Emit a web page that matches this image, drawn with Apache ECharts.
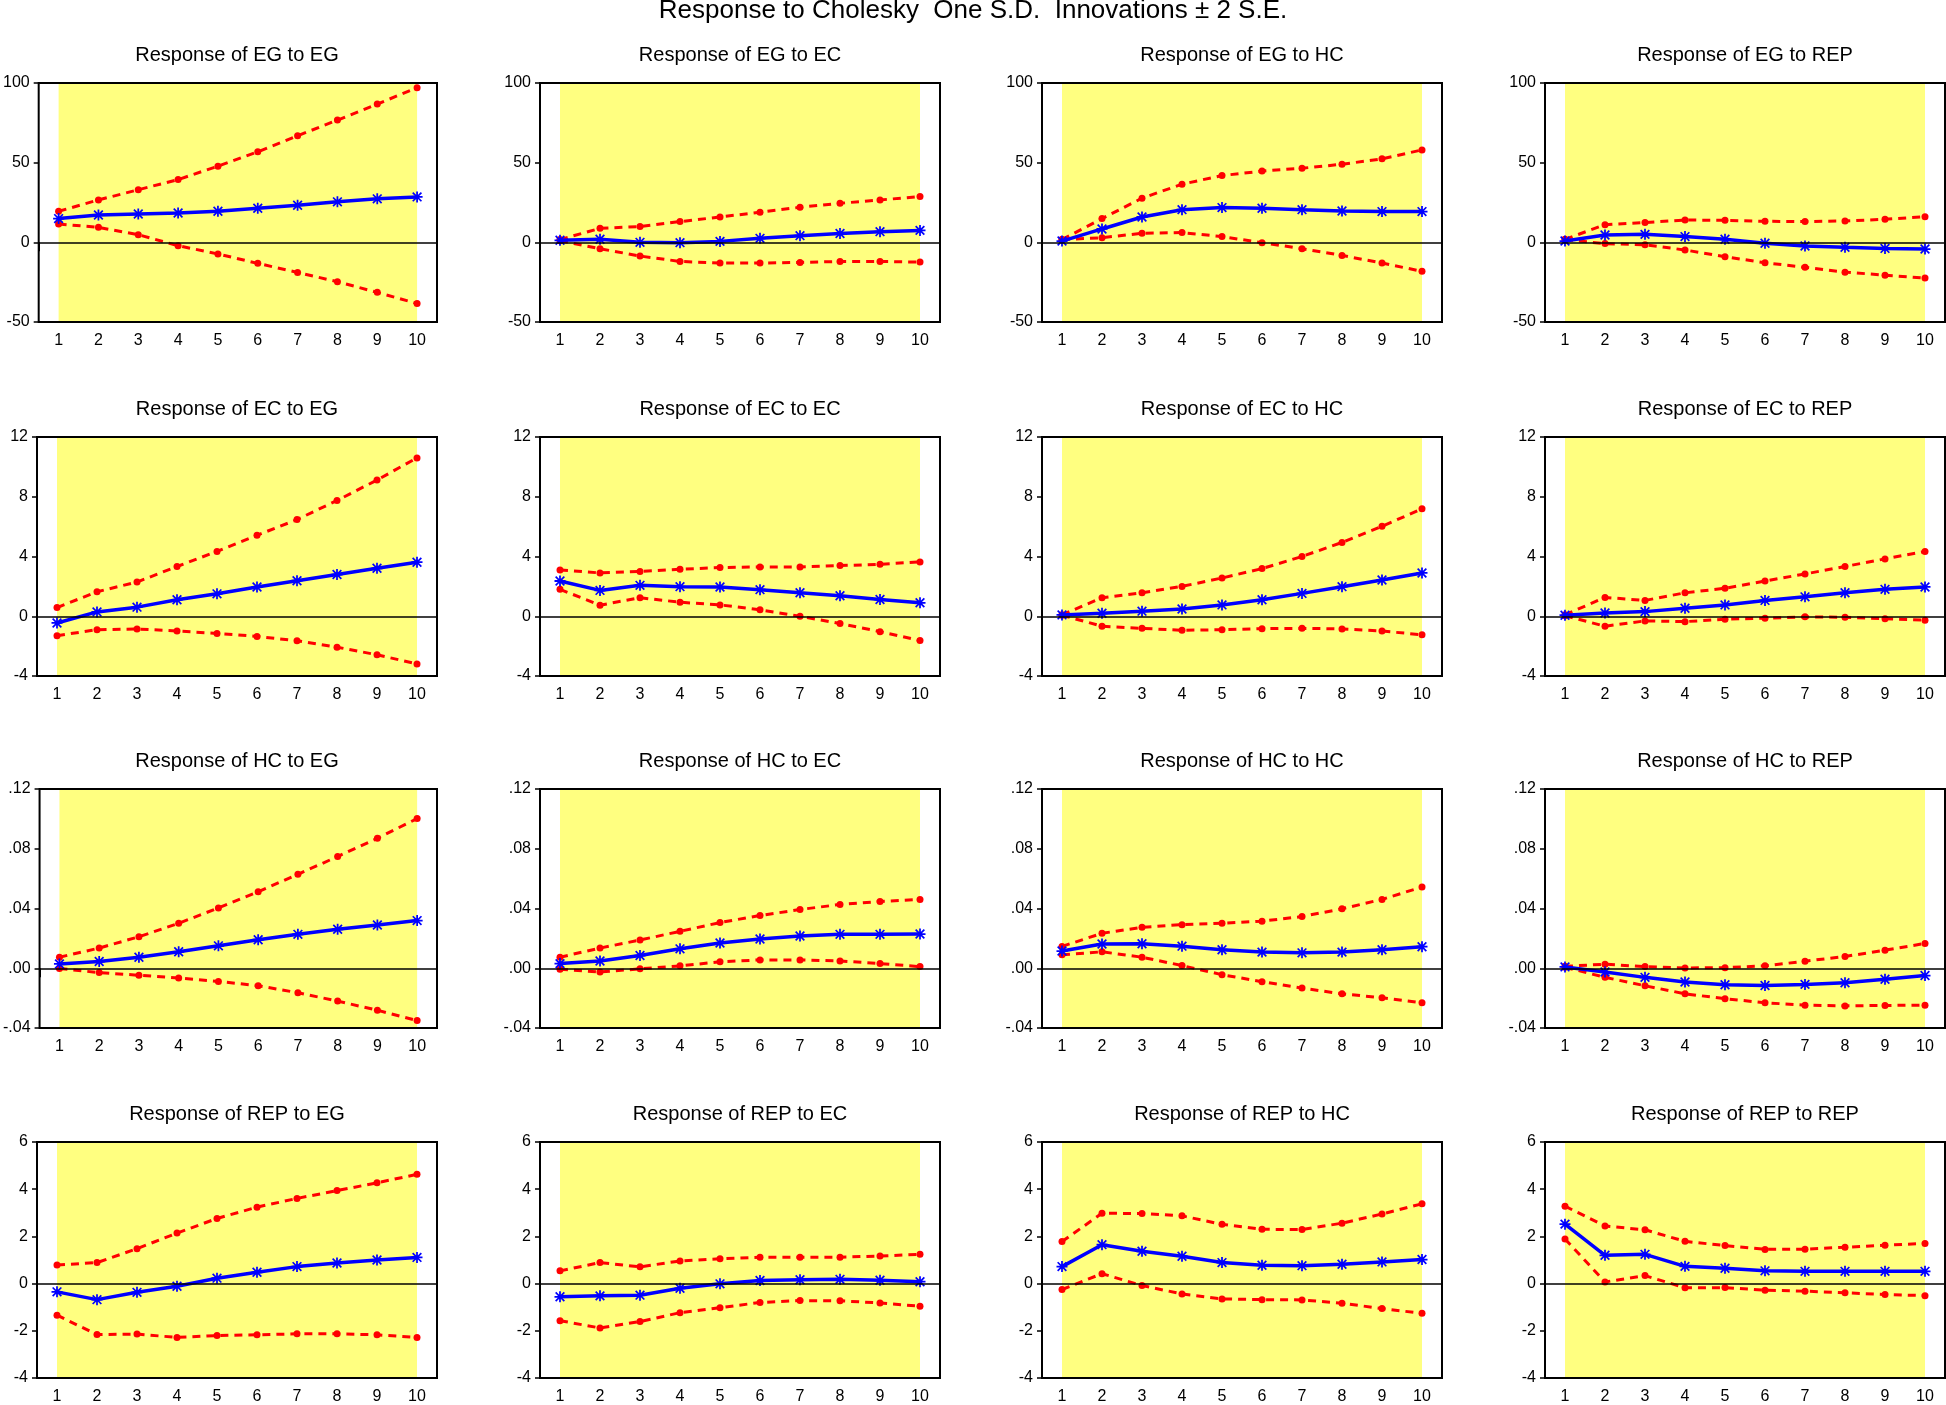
<!DOCTYPE html>
<html>
<head>
<meta charset="utf-8">
<script src="https://cdn.jsdelivr.net/npm/echarts@6/dist/echarts.min.js"></script>
<style>
  html, body { margin: 0; padding: 0; background: #fff; }
  #main { width: 1946px; height: 1405px; }
</style>
</head>
<body>
<div id="main"></div>
<script>
// periods on the x axis
var periods = ['1', '2', '3', '4', '5', '6', '7', '8', '9', '10'];
var varNames = ['EG', 'EC', 'HC', 'REP'];

// y axis ticks per row (response variable)
var yMin = [-50, -4, -0.04, -4];
var yMax = [100, 12, 0.12, 6];
var yStep = [50, 4, 0.04, 2];

// ---- Response of EG ----
var resp_EG_EG = [14.9, 17.2, 17.8, 18.4, 19.5, 21.4, 23.3, 25.4, 27.3, 28.5];
var lo_EG_EG = [11.5, 9.4, 4.8, -2.1, -7.3, -13.2, -18.9, -24.7, -31.4, -38.4];
var hi_EG_EG = [19.5, 26.6, 33.0, 39.4, 47.8, 56.8, 66.9, 76.7, 86.8, 97.0];

var resp_EG_EC = [1.3, 1.9, 0.0, -0.2, 0.6, 2.5, 4.2, 5.5, 6.7, 7.5];
var lo_EG_EC = [1.0, -4.0, -8.6, -12.0, -13.0, -13.0, -12.6, -12.0, -12.0, -12.4];
var hi_EG_EC = [1.7, 8.8, 9.9, 13.0, 15.9, 18.9, 22.0, 24.5, 26.6, 28.7];

var resp_EG_HC = [0.8, 8.4, 15.9, 20.5, 21.8, 21.4, 20.5, 19.7, 19.3, 19.3];
var lo_EG_HC = [1.7, 2.9, 5.7, 6.1, 3.6, -0.2, -4.0, -8.2, -13.0, -18.2];
var hi_EG_HC = [1.7, 14.9, 27.7, 36.5, 41.9, 44.7, 46.5, 49.0, 52.4, 58.0];

var resp_EG_REP = [0.8, 4.6, 5.0, 3.6, 1.9, -0.6, -2.3, -3.1, -3.8, -4.2];
var lo_EG_REP = [1.7, -0.8, -1.5, -4.8, -9.0, -12.8, -15.7, -18.7, -20.6, -22.4];
var hi_EG_REP = [1.9, 11.1, 12.4, 14.0, 13.8, 13.2, 13.0, 13.4, 14.5, 16.1];

// ---- Response of EC ----
var resp_EC_EG = [-0.45, 0.29, 0.61, 1.10, 1.50, 1.96, 2.38, 2.79, 3.21, 3.62];
var lo_EC_EG = [-1.30, -0.90, -0.85, -0.99, -1.15, -1.35, -1.64, -2.07, -2.58, -3.19];
var hi_EC_EG = [0.58, 1.64, 2.29, 3.33, 4.34, 5.42, 6.47, 7.75, 9.12, 10.60];

var resp_EC_EC = [2.36, 1.73, 2.07, 1.98, 1.96, 1.78, 1.57, 1.37, 1.12, 0.90];
var lo_EC_EC = [1.80, 0.74, 1.24, 0.94, 0.76, 0.43, 0.00, -0.49, -1.03, -1.62];
var hi_EC_EC = [3.10, 2.90, 3.00, 3.15, 3.26, 3.30, 3.30, 3.39, 3.48, 3.64];

var resp_EC_HC = [0.09, 0.20, 0.34, 0.49, 0.76, 1.10, 1.53, 1.98, 2.43, 2.90];
var lo_EC_HC = [0.07, -0.67, -0.81, -0.94, -0.90, -0.83, -0.81, -0.85, -0.99, -1.24];
var hi_EC_HC = [0.10, 1.24, 1.57, 2.00, 2.56, 3.19, 4.00, 4.94, 6.02, 7.19];

var resp_EC_REP = [0.07, 0.22, 0.31, 0.54, 0.76, 1.06, 1.30, 1.57, 1.80, 1.96];
var lo_EC_REP = [0.04, -0.67, -0.31, -0.36, -0.20, -0.13, -0.04, -0.07, -0.16, -0.27];
var hi_EC_REP = [0.10, 1.26, 1.06, 1.57, 1.87, 2.36, 2.83, 3.33, 3.84, 4.34];

// ---- Response of HC ----
var resp_HC_EG = [0.0029, 0.0045, 0.0074, 0.0110, 0.0150, 0.0191, 0.0227, 0.0261, 0.0290, 0.0319];
var lo_HC_EG = [-0.0002, -0.0029, -0.0047, -0.0065, -0.0088, -0.0117, -0.0164, -0.0220, -0.0281, -0.0350];
var hi_HC_EG = [0.0074, 0.0135, 0.0211, 0.0301, 0.0404, 0.0512, 0.0629, 0.0748, 0.0870, 0.1002];

var resp_HC_EC = [0.0031, 0.0049, 0.0085, 0.0130, 0.0169, 0.0196, 0.0216, 0.0227, 0.0227, 0.0229];
var lo_HC_EC = [-0.0007, -0.0025, -0.0004, 0.0016, 0.0043, 0.0056, 0.0056, 0.0049, 0.0031, 0.0011];
var hi_HC_EC = [0.0074, 0.0135, 0.0189, 0.0247, 0.0306, 0.0353, 0.0393, 0.0427, 0.0447, 0.0461];

var resp_HC_HC = [0.0115, 0.0162, 0.0164, 0.0148, 0.0124, 0.0108, 0.0103, 0.0108, 0.0124, 0.0144];
var lo_HC_HC = [0.0090, 0.0110, 0.0074, 0.0018, -0.0043, -0.0090, -0.0133, -0.0171, -0.0198, -0.0231];
var hi_HC_HC = [0.0146, 0.0234, 0.0274, 0.0292, 0.0301, 0.0315, 0.0346, 0.0398, 0.0461, 0.0544];

var resp_HC_REP = [0.0009, -0.0025, -0.0061, -0.0092, -0.0110, -0.0115, -0.0108, -0.0097, -0.0074, -0.0049];
var lo_HC_REP = [0.0007, -0.0061, -0.0117, -0.0171, -0.0204, -0.0231, -0.0247, -0.0252, -0.0249, -0.0247];
var hi_HC_REP = [0.0013, 0.0027, 0.0011, 0.0002, 0.0004, 0.0016, 0.0047, 0.0079, 0.0121, 0.0166];

// ---- Response of REP ----
var resp_REP_EG = [-0.35, -0.68, -0.37, -0.11, 0.23, 0.48, 0.72, 0.87, 1.00, 1.11];
var lo_REP_EG = [-1.34, -2.16, -2.14, -2.28, -2.20, -2.17, -2.13, -2.13, -2.17, -2.28];
var hi_REP_EG = [0.79, 0.89, 1.48, 2.14, 2.76, 3.24, 3.61, 3.94, 4.27, 4.63];

var resp_REP_EC = [-0.56, -0.52, -0.49, -0.20, -0.01, 0.13, 0.16, 0.18, 0.14, 0.08];
var lo_REP_EC = [-1.57, -1.88, -1.61, -1.23, -1.02, -0.80, -0.72, -0.73, -0.82, -0.96];
var hi_REP_EC = [0.54, 0.89, 0.71, 0.96, 1.05, 1.12, 1.12, 1.12, 1.17, 1.24];

var resp_REP_HC = [0.72, 1.65, 1.37, 1.16, 0.89, 0.78, 0.76, 0.82, 0.92, 1.02];
var lo_REP_HC = [-0.25, 0.42, -0.08, -0.44, -0.65, -0.68, -0.69, -0.83, -1.06, -1.26];
var hi_REP_HC = [1.78, 2.98, 2.97, 2.87, 2.51, 2.30, 2.29, 2.56, 2.95, 3.38];

var resp_REP_REP = [2.52, 1.20, 1.24, 0.73, 0.65, 0.54, 0.52, 0.52, 0.52, 0.52];
var lo_REP_REP = [1.89, 0.07, 0.34, -0.18, -0.17, -0.28, -0.32, -0.39, -0.46, -0.51];
var hi_REP_REP = [3.28, 2.44, 2.28, 1.79, 1.61, 1.45, 1.46, 1.54, 1.63, 1.70];

var panels = [
    [[resp_EG_EG, lo_EG_EG, hi_EG_EG], [resp_EG_EC, lo_EG_EC, hi_EG_EC], [resp_EG_HC, lo_EG_HC, hi_EG_HC], [resp_EG_REP, lo_EG_REP, hi_EG_REP]],
    [[resp_EC_EG, lo_EC_EG, hi_EC_EG], [resp_EC_EC, lo_EC_EC, hi_EC_EC], [resp_EC_HC, lo_EC_HC, hi_EC_HC], [resp_EC_REP, lo_EC_REP, hi_EC_REP]],
    [[resp_HC_EG, lo_HC_EG, hi_HC_EG], [resp_HC_EC, lo_HC_EC, hi_HC_EC], [resp_HC_HC, lo_HC_HC, hi_HC_HC], [resp_HC_REP, lo_HC_REP, hi_HC_REP]],
    [[resp_REP_EG, lo_REP_EG, hi_REP_EG], [resp_REP_EC, lo_REP_EC, hi_REP_EC], [resp_REP_HC, lo_REP_HC, hi_REP_HC], [resp_REP_REP, lo_REP_REP, hi_REP_REP]]
];

var FONT = "'Liberation Sans', Arial, Helvetica, sans-serif";
var colLeft = [37, 540, 1042, 1545];
var rowTop = [83, 437, 789, 1142];
var boxW = 400, boxH = 239;

// asterisk marker for the response line
var asterisk = 'path://M0,4.2L10,4.2L10,5.8L0,5.8Z M4.2,0L5.8,0L5.8,10L4.2,10Z ' +
    'M1.6,0.5L9.5,8.4L8.4,9.5L0.5,1.6Z M8.4,0.5L9.5,1.6L1.6,9.5L0.5,8.4Z';

function smallDecimal(v) {
    if (Math.abs(v) < 1e-9) return '.00';
    var s = Math.abs(v).toFixed(2).replace(/^0/, '');
    return (v < 0 ? '-' : '') + s;
}

var chart = echarts.init(document.getElementById('main'));

var titles = [{
    text: 'Response to Cholesky  One S.D.  Innovations \u00b1 2 S.E.',
    left: 'center',
    top: -3,
    padding: 0,
    textStyle: { fontFamily: FONT, fontSize: 26, fontWeight: 'normal', color: '#000', lineHeight: 28 }
}];
var grids = [], xAxes = [], yAxes = [], series = [];

for (var r = 0; r < 4; r++) {
    for (var c = 0; c < 4; c++) {
        var idx = r * 4 + c;
        titles.push({
            text: 'Response of ' + varNames[r] + ' to ' + varNames[c],
            left: colLeft[c] + boxW / 2,
            textAlign: 'center',
            top: rowTop[r] - 39,
            padding: 0,
            textStyle: { fontFamily: FONT, fontSize: 20, fontWeight: 'normal', color: '#000', lineHeight: 22 }
        });
        grids.push({
            show: true, z: 5,
            left: colLeft[c], top: rowTop[r], width: boxW, height: boxH,
            borderColor: '#000', borderWidth: 2, backgroundColor: 'transparent'
        });
        xAxes.push({
            type: 'category', gridIndex: idx, data: periods, boundaryGap: true,
            axisLine: { show: false },
            axisTick: { show: true, inside: false, length: 9, interval: 0, lineStyle: { color: '#000', width: 2 } },
            axisLabel: { fontFamily: FONT, fontSize: 16, color: '#000', margin: 11, interval: 0 },
            splitLine: { show: false }
        });
        yAxes.push({
            type: 'value', gridIndex: idx,
            min: yMin[r], max: yMax[r], interval: yStep[r],
            axisLine: { show: false },
            axisTick: { show: true, inside: false, length: 5, lineStyle: { color: '#000', width: 1.5 } },
            axisLabel: {
                fontFamily: FONT, fontSize: 16, color: '#000', margin: 9,
                formatter: r === 2 ? smallDecimal : null
            },
            splitLine: { show: false }
        });
        var d = panels[r][c];
        series.push({
            type: 'line', xAxisIndex: idx, yAxisIndex: idx, data: d[2],
            symbol: 'circle', symbolSize: 7, silent: true,
            lineStyle: { color: '#ff0000', width: 3, type: [8, 6] },
            itemStyle: { color: '#ff0000' },
            markArea: {
                silent: true,
                itemStyle: { color: '#ffff80', opacity: 1 },
                data: [[{ xAxis: periods[0] }, { xAxis: periods[periods.length - 1] }]]
            }
        });
        series.push({
            type: 'line', xAxisIndex: idx, yAxisIndex: idx, data: d[1],
            symbol: 'circle', symbolSize: 7, silent: true,
            lineStyle: { color: '#ff0000', width: 3, type: [8, 6] },
            itemStyle: { color: '#ff0000' },
            markLine: {
                silent: true, symbol: ['none', 'none'], label: { show: false },
                lineStyle: { color: '#000', width: 1.5, type: 'solid' },
                data: [{ yAxis: 0 }]
            }
        });
        series.push({
            type: 'line', xAxisIndex: idx, yAxisIndex: idx, data: d[0],
            symbol: asterisk, symbolSize: 11, silent: true, z: 4,
            lineStyle: { color: '#0000ff', width: 3.5 },
            itemStyle: { color: '#0000ff' }
        });
    }
}

chart.setOption({
    animation: false,
    backgroundColor: '#fff',
    title: titles,
    grid: grids,
    xAxis: xAxes,
    yAxis: yAxes,
    series: series
});
window.addEventListener('resize', function () {
    chart.resize();
});
</script>
</body>
</html>
